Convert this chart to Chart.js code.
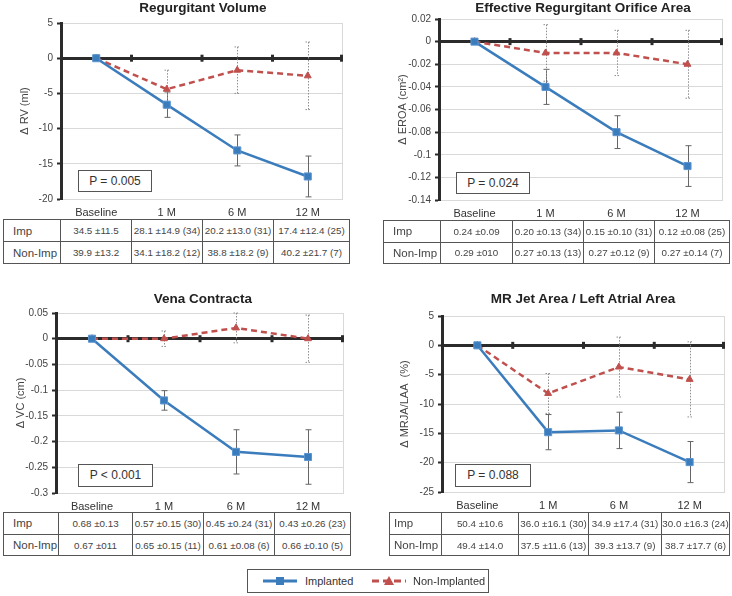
<!DOCTYPE html>
<html>
<head>
<meta charset="utf-8">
<script src="https://cdn.jsdelivr.net/npm/chart.js@4.4.0/dist/chart.umd.min.js"></script>
<style>
body{margin:0;background:#fff;font-family:"Liberation Sans",Arial,sans-serif;color:#333;}
#fig{position:relative;width:732px;height:596px;overflow:hidden;}
canvas{position:absolute;}
.ttl{position:absolute;width:340px;text-align:center;font-weight:bold;font-size:13.5px;line-height:16px;color:#222;}
.pbox{position:absolute;border:1px solid #555;background:#fff;font-size:12px;text-align:center;box-sizing:border-box;color:#333;}
table.tb{position:absolute;border-collapse:collapse;table-layout:fixed;}
table.tb td{border:1px solid #555;padding:0;font-size:9.8px;text-align:center;color:#444;white-space:nowrap;overflow:hidden;}
table.tb td.lab{text-align:left;font-size:11.5px;}
#legend{position:absolute;left:247px;top:569px;width:242px;height:24px;border:1px solid #555;box-sizing:border-box;font-size:11px;white-space:nowrap;}
#legend span,#legend svg{position:absolute;}
</style>
</head>
<body>
<div id="fig"></div>
<script>
// time points
var categories = ['Baseline', '1 M', '6 M', '12 M'];
var rowNames = ['Imp', 'Non-Imp'];

// regurgitant volume (ml)
var rvImp = [0, -6.6, -13.1, -16.8];
var rvImpErr = [0, 1.8, 2.2, 2.9];
var rvNon = [0, -4.4, -1.7, -2.5];
var rvNonErr = [0, 2.7, 3.3, 4.8];
var rvTicks = [-20, 5, 5];
var rvTabImp = ['34.5 ±11.5', '28.1 ±14.9 (34)', '20.2 ±13.0 (31)', '17.4 ±12.4 (25)'];
var rvTabNon = ['39.9 ±13.2', '34.1 ±18.2 (12)', '38.8 ±18.2 (9)', '40.2 ±21.7 (7)'];

// EROA (cm2)
var eroaImp = [0, -0.04, -0.08, -0.11];
var eroaImpErr = [0, 0.0155, 0.0145, 0.018];
var eroaNon = [0, -0.01, -0.01, -0.02];
var eroaNonErr = [0, 0.025, 0.02, 0.03];
var eroaTicks = [-0.14, 0.02, 0.02];
var eroaTabImp = ['0.24 ±0.09', '0.20 ±0.13 (34)', '0.15 ±0.10 (31)', '0.12 ±0.08 (25)'];
var eroaTabNon = ['0.29 ±010', '0.27 ±0.13 (13)', '0.27 ±0.12 (9)', '0.27 ±0.14 (7)'];

// vena contracta (cm)
var vcImp = [0, -0.12, -0.22, -0.23];
var vcImpErr = [0, 0.019, 0.043, 0.053];
var vcNon = [0, 0, 0.021, 0];
var vcNonErr = [0, 0.015, 0.029, 0.046];
var vcTicks = [-0.3, 0.05, 0.05];
var vcTabImp = ['0.68 ±0.13', '0.57 ±0.15 (30)', '0.45 ±0.24 (31)', '0.43 ±0.26 (23)'];
var vcTabNon = ['0.67 ±011', '0.65 ±0.15 (11)', '0.61 ±0.08 (6)', '0.66 ±0.10 (5)'];

// MR jet area / LA area (%)
var mrImp = [0, -14.8, -14.5, -19.9];
var mrImpErr = [0, 3.0, 3.1, 3.5];
var mrNon = [0, -8.2, -3.7, -5.8];
var mrNonErr = [0, 3.4, 5.1, 6.4];
var mrTicks = [-25, 5, 5];
var mrTabImp = ['50.4 ±10.6', '36.0 ±16.1 (30)', '34.9 ±17.4 (31)', '30.0 ±16.3 (24)'];
var mrTabNon = ['49.4 ±14.0', '37.5 ±11.6 (13)', '39.3 ±13.7 (9)', '38.7 ±17.7 (6)'];

var BLUE = '#3b7cbd', RED = '#c0504d', DARK = '#2b2b2b', GRID = '#d9d9d9';

Chart.defaults.font.family = '"Liberation Sans", Arial, sans-serif';

var panels = [
  {title: 'Regurgitant Volume', ytitle: 'Δ RV (ml)', p: 'P = 0.005',
   imp: rvImp, impErr: rvImpErr, non: rvNon, nonErr: rvNonErr, ticks: rvTicks, tImp: rvTabImp, tNon: rvTabNon,
   box: [0, 0, 366, 219], top: 23, right: 23, yw: 61, xh: 20, tpad: 18,
   titleC: [203, 8], pbox: [78, 170, 74, 22], tab: [3, 219, 22, [57, 71, 71, 71, 76], 9]},
  {title: 'Effective Regurgitant Orifice Area', ytitle: 'Δ EROA (cm²)', p: 'P = 0.024',
   imp: eroaImp, impErr: eroaImpErr, non: eroaNon, nonErr: eroaNonErr, ticks: eroaTicks, tImp: eroaTabImp, tNon: eroaTabNon,
   box: [366, 0, 366, 219], top: 19, right: 9, yw: 73, xh: 19, tpad: 30,
   titleC: [583, 8], pbox: [456, 172, 74, 22], tab: [383, 220, 21.5, [57, 72, 71, 71, 75], 9]},
  {title: 'Vena Contracta', ytitle: 'Δ VC (cm)', p: 'P < 0.001',
   imp: vcImp, impErr: vcImpErr, non: vcNon, nonErr: vcNonErr, ticks: vcTicks, tImp: vcTabImp, tNon: vcTabNon,
   box: [0, 280, 366, 232], top: 33, right: 22, yw: 56, xh: 19, tpad: 14,
   titleC: [203, 299], pbox: [78, 464, 75, 23], tab: [3, 512, 21.7, [55, 74, 71, 71, 76], 9]},
  {title: 'MR Jet Area / Left Atrial Area', ytitle: 'Δ MRJA/LAA  (%)', p: 'P = 0.088',
   imp: mrImp, impErr: mrImpErr, non: mrNon, nonErr: mrNonErr, ticks: mrTicks, tImp: mrTabImp, tNon: mrTabNon,
   box: [366, 280, 366, 232], top: 36, right: 7, yw: 76, xh: 20, tpad: 32,
   titleC: [583, 299], pbox: [455, 464, 76, 23], tab: [389, 512, 21.7, [52, 77, 70, 73, 68], 4]}
];

var framePlugin = {
  id: 'frame',
  beforeDatasetsDraw: function(chart) {
    var ctx = chart.ctx, a = chart.chartArea, x = chart.scales.x, y = chart.scales.y;
    ctx.save();
    // right edge of plot
    ctx.strokeStyle = GRID; ctx.lineWidth = 1;
    ctx.beginPath(); ctx.moveTo(a.right - 0.5, a.top); ctx.lineTo(a.right - 0.5, a.bottom); ctx.stroke();
    // little ticks on the zero line between categories
    var half = (x.getPixelForValue(1) - x.getPixelForValue(0)) / 2;
    var y0 = y.getPixelForValue(0);
    ctx.fillStyle = DARK;
    for (var i = 0; i < categories.length; i++) {
      var px = Math.min(x.getPixelForValue(i) + half, a.right - 1.5);
      ctx.fillRect(px - 1.5, y0 - 3.5, 3, 7);
    }
    // error bars
    chart.data.datasets.forEach(function(ds, di) {
      var meta = chart.getDatasetMeta(di);
      ctx.strokeStyle = ds.errColor;
      ctx.lineWidth = 1;
      ctx.setLineDash(ds.errDash);
      ds.errors.forEach(function(e, j) {
        if (!e) return;
        var px = Math.round(meta.data[j].x) + 0.5;
        var t = y.getPixelForValue(ds.data[j] + e), b = y.getPixelForValue(ds.data[j] - e);
        ctx.beginPath();
        ctx.moveTo(px, t); ctx.lineTo(px, b);
        ctx.moveTo(px - 3, t); ctx.lineTo(px + 3, t);
        ctx.moveTo(px - 3, b); ctx.lineTo(px + 3, b);
        ctx.stroke();
      });
    });
    ctx.restore();
  }
};

function fmt(v) {
  return String(Number(v.toFixed(2)));
}

var fig = document.getElementById('fig');

panels.forEach(function(p) {
  var cv = document.createElement('canvas');
  cv.width = p.box[2]; cv.height = p.box[3];
  cv.style.left = p.box[0] + 'px'; cv.style.top = p.box[1] + 'px';
  cv.style.width = p.box[2] + 'px'; cv.style.height = p.box[3] + 'px';
  fig.appendChild(cv);

  new Chart(cv, {
    type: 'line',
    data: {
      labels: categories,
      datasets: [
        {label: 'Implanted', data: p.imp, errors: p.impErr, errColor: '#666', errDash: [],
         borderColor: BLUE, backgroundColor: BLUE, borderWidth: 2.5,
         pointStyle: 'rect', pointRadius: 5, pointBorderWidth: 1, pointBorderColor: '#5b95cf', pointBackgroundColor: BLUE},
        {label: 'Non-Implanted', data: p.non, errors: p.nonErr, errColor: '#8f8f8f', errDash: [1.5, 1.5],
         borderColor: RED, backgroundColor: RED, borderWidth: 2.5, borderDash: [6, 4],
         pointStyle: 'triangle', pointRadius: 4, pointBorderWidth: 1, pointBorderColor: RED, pointBackgroundColor: RED}
      ]
    },
    options: {
      animation: false,
      responsive: false,
      devicePixelRatio: 1,
      layout: {padding: {top: p.top, right: p.right, left: 0, bottom: 0}},
      plugins: {legend: {display: false}, tooltip: {enabled: false}},
      scales: {
        x: {
          offset: true,
          grid: {display: false, drawTicks: false},
          border: {display: false},
          ticks: {padding: 7, color: '#333', font: {size: 11}},
          afterFit: function(s) { s.height = p.xh; }
        },
        y: {
          min: p.ticks[0], max: p.ticks[1],
          ticks: {stepSize: p.ticks[2], padding: 4, color: '#444', font: {size: 10},
                  callback: function(v) { return fmt(v); }},
          grid: {
            color: function(c) { return Math.abs(c.tick.value) < 1e-9 ? DARK : GRID; },
            lineWidth: function(c) { return Math.abs(c.tick.value) < 1e-9 ? 3 : 1; },
            tickColor: DARK, tickLength: 4, tickWidth: 2
          },
          border: {color: DARK, width: 3},
          title: {display: true, text: p.ytitle, color: '#444', font: {size: 11}, padding: {top: p.tpad, bottom: 0}},
          afterFit: function(s) { s.width = p.yw; }
        }
      }
    },
    plugins: [framePlugin]
  });

  var t = document.createElement('div');
  t.className = 'ttl';
  t.textContent = p.title;
  t.style.left = (p.titleC[0] - 170) + 'px';
  t.style.top = (p.titleC[1] - 8) + 'px';
  fig.appendChild(t);

  var b = document.createElement('div');
  b.className = 'pbox';
  b.textContent = p.p;
  b.style.left = p.pbox[0] + 'px'; b.style.top = p.pbox[1] + 'px';
  b.style.width = p.pbox[2] + 'px'; b.style.height = p.pbox[3] + 'px';
  b.style.lineHeight = (p.pbox[3] - 2) + 'px';
  fig.appendChild(b);

  var tab = document.createElement('table');
  tab.className = 'tb';
  var cols = p.tab[3];
  var total = cols.reduce(function(s, w) { return s + w; }, 0);
  tab.style.left = p.tab[0] + 'px'; tab.style.top = p.tab[1] + 'px'; tab.style.width = total + 'px';
  var cg = document.createElement('colgroup');
  cols.forEach(function(w) { var c = document.createElement('col'); c.style.width = w + 'px'; cg.appendChild(c); });
  tab.appendChild(cg);
  [p.tImp, p.tNon].forEach(function(vals, r) {
    var tr = document.createElement('tr');
    tr.style.height = p.tab[2] + 'px';
    var td = document.createElement('td');
    td.className = 'lab'; td.textContent = rowNames[r];
    td.style.paddingLeft = p.tab[4] + 'px';
    tr.appendChild(td);
    vals.forEach(function(v) { var c = document.createElement('td'); c.textContent = v; tr.appendChild(c); });
    tab.appendChild(tr);
  });
  fig.appendChild(tab);
});

// shared legend
var lg = document.createElement('div');
lg.id = 'legend';
lg.innerHTML =
  '<svg style="left:15px;top:6px" width="34" height="10">' +
  '<line x1="0" y1="5" x2="34" y2="5" stroke="' + BLUE + '" stroke-width="3"/>' +
  '<rect x="13" y="1" width="8" height="8" fill="' + BLUE + '"/></svg>' +
  '<span style="left:57px;top:5px">Implanted</span>' +
  '<svg style="left:124px;top:6px" width="34" height="10">' +
  '<line x1="0" y1="5" x2="34" y2="5" stroke="' + RED + '" stroke-width="3" stroke-dasharray="7,4"/>' +
  '<polygon points="17,0 22,9 12,9" fill="' + RED + '"/></svg>' +
  '<span style="left:165px;top:5px">Non-Implanted</span>';
fig.appendChild(lg);
</script>
</body>
</html>
